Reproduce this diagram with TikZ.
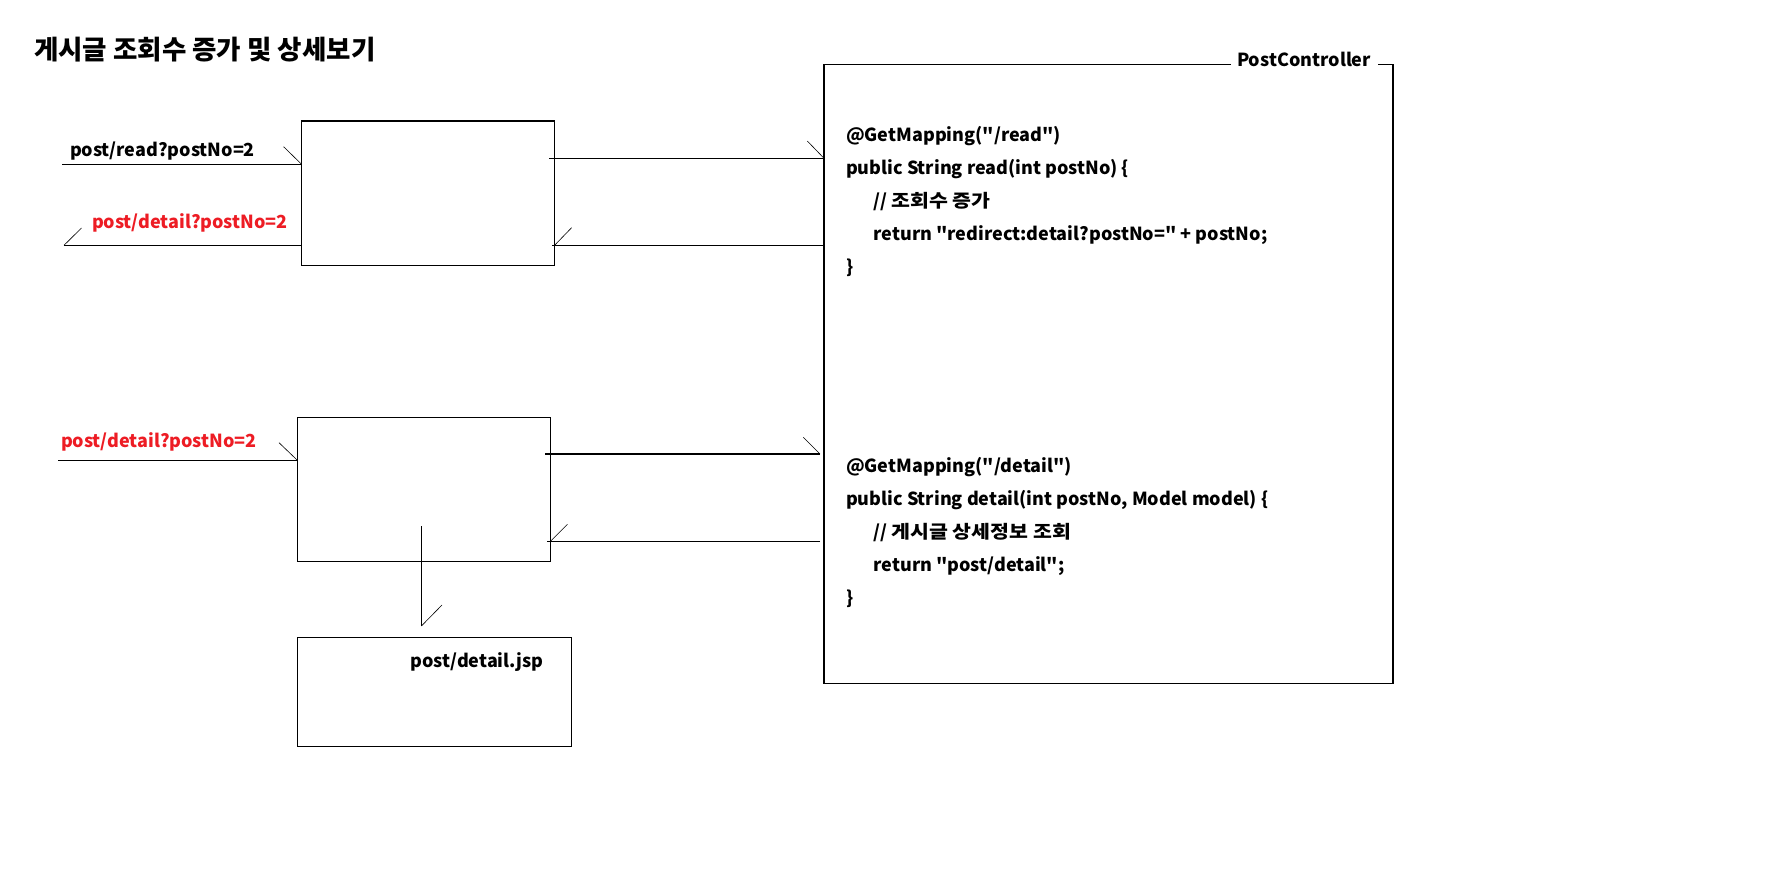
\documentclass[tikz,border=0pt]{standalone}
\usepackage{fontspec}
\setmainfont{Noto Sans CJK KR}[Ligatures=TeXOff]
\definecolor{pred}{RGB}{237,28,36}
\newcommand{\krsp}[1]{{\addfontfeature{FakeStretch=1.14}#1}}
\begin{document}
\begin{tikzpicture}[x=1pt,y=-1pt,
  box/.style={draw, line width=1.2pt, inner sep=0pt, outer sep=0pt, anchor=north west},
  conn/.style={line width=1.2pt},
  barb/.style={line width=0.6pt},
  lbl/.style={inner sep=0pt, outer sep=0pt, anchor=base west, font=\fontsize{18}{21}\selectfont\bfseries},
  redlbl/.style={lbl, text=pred}
]
\useasboundingbox (0,0) rectangle (1766,874);
% title
\node[inner sep=0pt, anchor=west, font=\fontsize{26.5}{31}\selectfont\bfseries] (title) at (34,50) {게시글 조회수 증가 및 상세보기};
% boxes
\node[box, minimum width=253pt, minimum height=144.5pt] (b1) at (301.6,121) {};
\node[box, minimum width=253pt, minimum height=144pt] (b2) at (297.4,417.3) {};
\node[box, minimum width=274pt, minimum height=109pt] (jsp) at (297.4,637.3) {};
\node[inner sep=0pt, outer sep=0pt, anchor=north west, minimum width=569pt, minimum height=619pt] (ctrl) at (824,64.3) {};
\draw[line width=1.2pt] (1231,64.3) -- (ctrl.north west) -- (ctrl.south west) -- (ctrl.south east) -- (ctrl.north east) -- (1378,64.3);
\node[lbl] (ctrlname) at (1237,67) {PostController};
% labels
\node[lbl] (l1) at (70,157) {post/read?postNo=2};
\node[redlbl] (l2) at (92,228.5) {post/detail?postNo=2};
\node[redlbl] (l3) at (61,447.7) {post/detail?postNo=2};
\node[lbl] (l4) at (410.6,667) {post/detail.jsp};
% code block 1
\node[lbl] (c11) at (846,142) {@GetMapping("/read")};
\node[lbl] (c12) at (846,175) {public String read(int postNo) \{};
\node[lbl] (c13) at (873.6,208) {// \krsp{조회수 증가}};
\node[lbl] (c14) at (873.6,241) {return "redirect:detail?postNo=" + postNo;};
\node[lbl] (c15) at (846,274) {\}};
% code block 2
\node[lbl] (c21) at (846,472) {@GetMapping("/detail")};
\node[lbl] (c22) at (846,505) {public String detail(int postNo, Model model) \{};
\node[lbl] (c23) at (873.6,538) {// \krsp{게시글 상세정보 조회}};
\node[lbl] (c24) at (873.6,571) {return "post/detail";};
\node[lbl] (c25) at (846,604) {\}};
% connectors
\coordinate (i1) at (62,164.3);
\draw[conn] (i1) -- (i1 -| b1.west);
\draw[barb] (i1 -| b1.west) -- ++(-18,-17.6);
\coordinate (o1) at (64,245.3);
\draw[conn] (o1) -- (o1 -| b1.west);
\draw[barb] (o1) -- ++(17.5,-17.3);
\coordinate (r1) at (549.3,158.3);
\draw[conn] (r1) -- (r1 -| ctrl.west);
\draw[barb] (r1 -| ctrl.west) -- ++(-16.7,-17.3);
\coordinate (s1) at (551.7,245.3);
\draw[conn] (s1 -| ctrl.west) -- (s1);
\draw[barb] (s1 -| b1.east) -- ++(17,-17.6);
\coordinate (i2) at (58,460.3);
\draw[conn] (i2) -- (i2 -| b2.west);
\draw[barb] (i2 -| b2.west) -- ++(-18.4,-17.6);
\coordinate (r2) at (545,454);
\coordinate (r2e) at (820,454);
\draw[conn] (r2) -- (r2e);
\draw[barb] (r2e) -- ++(-16.7,-16.7);
\coordinate (s2) at (547.3,541.3);
\coordinate (s2e) at (820,541.3);
\draw[conn] (s2e) -- (s2);
\draw[barb] (s2 -| b2.east) -- ++(17,-17);
\coordinate (d1) at (421.4,526);
\coordinate (d1e) at (421.4,626);
\draw[conn] (d1) -- (d1e);
\draw[barb] (d1e) -- ++(20.6,-21);
\end{tikzpicture}
\end{document}
